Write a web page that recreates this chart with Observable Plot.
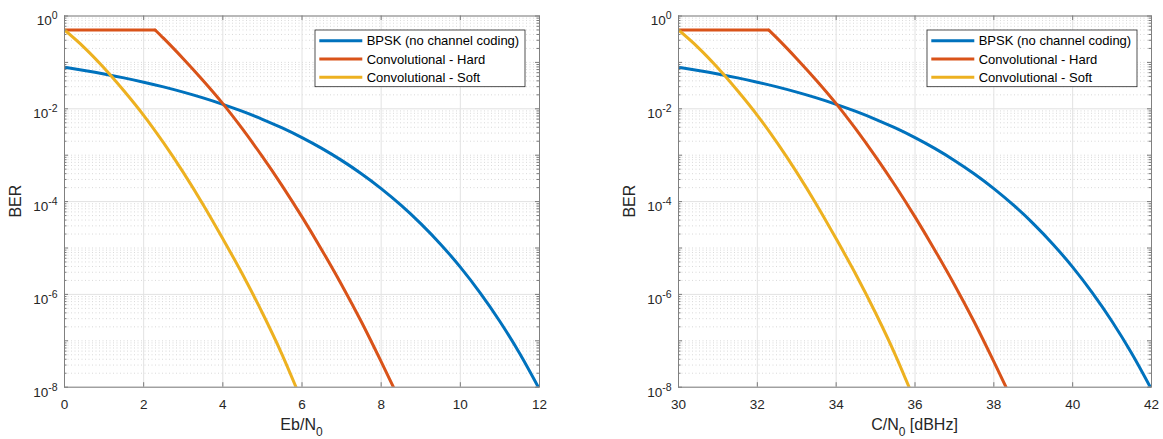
<!DOCTYPE html>
<html>
<head>
<meta charset="utf-8">
<script src="https://cdn.jsdelivr.net/npm/d3@7"></script>
<script src="https://cdn.jsdelivr.net/npm/@observablehq/plot@0.6"></script>
<style>
  html, body { margin: 0; padding: 0; background: #fff; }
  #wrap { display: flex; width: 1163px; height: 439px; overflow: hidden; }
  #wrap svg { display: block; }
</style>
</head>
<body>
<div id="wrap"></div>
<script>
// ---------------- data ----------------
const seriesNames = ["BPSK (no channel coding)", "Convolutional - Hard", "Convolutional - Soft"];
const seriesColors = ["#0072BD", "#D95319", "#EDB120"];

// BPSK, uncoded
const ebn0Bpsk = [0, 0.5, 1, 1.5, 2, 2.5, 3, 3.5, 4, 4.5, 5, 5.5, 6, 6.5, 7, 7.5, 8, 8.5, 9, 9.5, 10, 10.5, 11, 11.5, 12];
const berBpsk  = [0.0786, 0.0670, 0.0563, 0.0464, 0.0375, 0.0297, 0.0229, 0.0172, 0.0125, 0.00879, 0.00595, 0.00386,
                  0.00239, 0.00140, 7.73e-4, 3.99e-4, 1.91e-4, 8.40e-5, 3.36e-5, 1.21e-5, 3.87e-6, 1.08e-6, 2.61e-7, 5.33e-8, 9.0e-9];

// Convolutional, hard decision (flat at 0.5 up to the knee)
const ebn0Hard = [0, 2.29, 2.5, 3.0, 3.5, 4.0, 4.5, 5.0, 5.5, 6.0, 6.5, 7.0, 7.5, 8.0, 8.31];
const berHard  = [0.5, 0.5, 0.333, 0.120, 0.0407, 0.0129, 3.63e-3, 9.3e-4, 2.19e-4, 4.68e-5, 9.1e-6, 1.62e-6, 2.57e-7, 3.55e-8, 1e-8];

// Convolutional, soft decision
const ebn0Soft = [0, 0.5, 1.0, 1.5, 2.0, 2.5, 3.0, 3.5, 4.0, 4.5, 5.0, 5.5, 5.85];
const berSoft  = [0.5, 0.209, 0.0759, 0.0245, 0.00724, 0.00186, 4.27e-4, 8.7e-5, 1.58e-5, 2.69e-6, 3.98e-7, 5.0e-8, 1e-8];

// C/N0 = Eb/N0 + 10*log10(Rb), Rb = 1000 bit/s  -> +30 dBHz
const cn0Offset = 30;

// ticks
const ebn0Ticks = [0, 2, 4, 6, 8, 10, 12];
const cn0Ticks  = [30, 32, 34, 36, 38, 40, 42];
const yLabelTicks = [1, 1e-2, 1e-4, 1e-6, 1e-8];
const yDecades = [1, 1e-1, 1e-2, 1e-3, 1e-4, 1e-5, 1e-6, 1e-7, 1e-8];
const yMinor = [];
for (let e = -8; e < 0; e++) for (let k = 2; k <= 9; k++) yMinor.push(k * Math.pow(10, e));

// ---------------- drawing ----------------
const FONT = "'Liberation Sans', Arial, Helvetica, sans-serif";
const SVGNS = "http://www.w3.org/2000/svg";
const H = 439, mT = 15.5, mB = 52.3;

function toRows(xs, ys, off) { return xs.map((x, i) => ({x: x + off, y: ys[i]})); }

function panel({width, mL, mR, off, xTicks, labelMain, labelSub, labelRest}) {
  const pw = width - mL - mR, ph = H - mT - mB;
  const bpsk = toRows(ebn0Bpsk, berBpsk, off);
  const hard = toRows(ebn0Hard, berHard, off);
  const soft = toRows(ebn0Soft, berSoft, off);
  const knee = ebn0Hard[1] + off;
  const hardFlat = hard.filter(d => d.x <= knee);
  const hardFall = hard.filter(d => d.x >= knee);
  const tickCol = "#7a7a7a";
  const lw = 3;

  const svg = Plot.plot({
    width, height: H,
    marginLeft: mL, marginRight: mR, marginTop: mT, marginBottom: mB,
    style: {fontFamily: FONT, fontSize: "13.5px", color: "#262626", background: "#fff", overflow: "visible"},
    x: {domain: [xTicks[0], xTicks[xTicks.length - 1]]},
    y: {type: "log", domain: [1e-8, 1]},
    marks: [
      Plot.ruleY(yMinor.concat([1e-1, 1e-3, 1e-5, 1e-7]), {y: d => d, stroke: "#cfcfcf", strokeDasharray: "1,2.5", strokeWidth: 0.8}),
      Plot.ruleY(yLabelTicks, {y: d => d, stroke: "#e2e2e2", strokeWidth: 1}),
      Plot.ruleX(xTicks, {x: d => d, stroke: "#e2e2e2", strokeWidth: 1}),
      Plot.line(bpsk, {x: "x", y: "y", stroke: seriesColors[0], strokeWidth: lw, curve: "monotone-x", clip: true}),
      Plot.line(hardFlat, {x: "x", y: "y", stroke: seriesColors[1], strokeWidth: lw, clip: true}),
      Plot.line(hardFall, {x: "x", y: "y", stroke: seriesColors[1], strokeWidth: lw, curve: "monotone-x", clip: true}),
      Plot.line(soft, {x: "x", y: "y", stroke: seriesColors[2], strokeWidth: lw, curve: "monotone-x", clip: true}),
      // inward ticks (left / right)
      Plot.tickY(yDecades, {y: d => d, insetRight: pw - 4, stroke: tickCol}),
      Plot.tickY(yDecades, {y: d => d, insetLeft: pw - 4, stroke: tickCol}),
      Plot.tickY(yMinor, {y: d => d, insetRight: pw - 2.5, stroke: tickCol}),
      Plot.tickY(yMinor, {y: d => d, insetLeft: pw - 2.5, stroke: tickCol}),
      // inward ticks (bottom / top)
      Plot.tickX(xTicks, {x: d => d, insetTop: ph - 4.5, stroke: tickCol}),
      Plot.tickX(xTicks, {x: d => d, insetBottom: ph - 4.5, stroke: tickCol}),
      Plot.frame({stroke: "#808080", strokeWidth: 1}),
      Plot.axisY(yLabelTicks, {tickSize: 0, tickPadding: 7, dy: 5, label: null, fill: "#262626", fontSize: 13.5,
                               tickFormat: d => String(Math.round(Math.log10(d)))}),
      Plot.axisX(xTicks, {tickSize: 0, tickPadding: 12, label: null, fill: "#262626", fontSize: 13.5,
                          tickFormat: d => String(d)})
    ]
  });

  // superscript exponents on y tick labels
  svg.querySelectorAll('g[aria-label="y-axis tick label"] text').forEach(t => {
    const exp = t.textContent;
    t.textContent = "";
    const base = document.createElementNS(SVGNS, "tspan");
    base.textContent = "10";
    const sup = document.createElementNS(SVGNS, "tspan");
    sup.textContent = exp;
    sup.setAttribute("dy", "-6");
    sup.setAttribute("font-size", "10.5");
    t.appendChild(base); t.appendChild(sup);
  });

  const root = d3.select(svg);
  // x label
  const xl = root.append("text")
    .attr("x", mL + pw / 2).attr("y", 430)
    .attr("text-anchor", "middle").attr("font-family", FONT).attr("font-size", 16).attr("fill", "#262626");
  xl.append("tspan").text(labelMain);
  xl.append("tspan").attr("dy", 5.5).attr("font-size", 12).text(labelSub);
  if (labelRest) xl.append("tspan").attr("dy", -5.5).text(labelRest);
  // y label
  root.append("text")
    .attr("transform", `translate(${mL - 43},${mT + ph / 2}) rotate(-90)`)
    .attr("text-anchor", "middle").attr("font-family", FONT).attr("font-size", 16).attr("fill", "#262626")
    .text("BER");

  // legend
  const lgW = 210, lgH = 56.7;
  const lx = mL + pw - 14 - lgW, ly = mT + 14.5;
  const lg = root.append("g").attr("transform", `translate(${lx},${ly})`);
  lg.append("rect").attr("width", lgW).attr("height", lgH).attr("fill", "#fff").attr("stroke", "#262626").attr("stroke-width", 0.8);
  seriesNames.forEach((name, i) => {
    const ry = 10.7 + i * 18.3;
    lg.append("line").attr("x1", 4.3).attr("x2", 47.3).attr("y1", ry).attr("y2", ry)
      .attr("stroke", seriesColors[i]).attr("stroke-width", 3);
    lg.append("text").attr("x", 51.7).attr("y", ry + 4.6).attr("text-anchor", "start")
      .attr("font-family", FONT).attr("font-size", 13).attr("fill", "#000").text(name);
  });
  return svg;
}

const wrap = document.getElementById("wrap");
wrap.appendChild(panel({width: 581, mL: 64, mR: 42, off: 0, xTicks: ebn0Ticks, labelMain: "Eb/N", labelSub: "0", labelRest: ""}));
wrap.appendChild(panel({width: 582, mL: 97, mR: 12, off: cn0Offset, xTicks: cn0Ticks, labelMain: "C/N", labelSub: "0", labelRest: " [dBHz]"}));
</script>
</body>
</html>
